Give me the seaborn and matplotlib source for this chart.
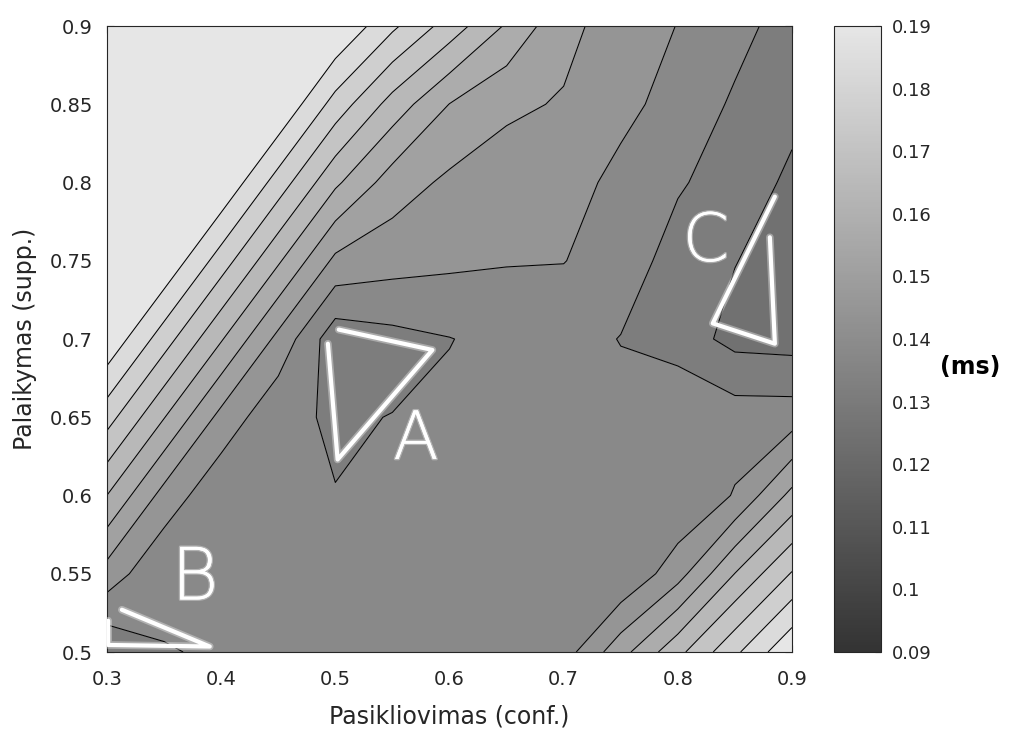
import numpy as np
import pandas as pd
import matplotlib
matplotlib.use("Agg")
import matplotlib as mpl
import matplotlib.pyplot as plt
import matplotlib.patheffects as pe
import seaborn as sns

# ---------------- data (execution time, ms) ----------------
conf_values = [0.30, 0.35, 0.40, 0.45, 0.50, 0.55, 0.60, 0.65, 0.70, 0.75, 0.80, 0.85, 0.90]
supp_values = [0.50, 0.55, 0.60, 0.65, 0.70, 0.75, 0.80, 0.85, 0.90]

time_supp_050 = [0.13254, 0.13790, 0.13820, 0.13930, 0.13995, 0.14060, 0.14125, 0.14130, 0.14151, 0.15506, 0.16862, 0.18214, 0.19569]
time_supp_055 = [0.14827, 0.13865, 0.13865, 0.13930, 0.13930, 0.13995, 0.14060, 0.14060, 0.14125, 0.13833, 0.14840, 0.16413, 0.17752]
time_supp_060 = [0.16394, 0.14860, 0.13930, 0.13930, 0.13813, 0.13930, 0.13995, 0.13995, 0.14125, 0.14125, 0.13833, 0.14502, 0.15939]
time_supp_065 = [0.17967, 0.16426, 0.14892, 0.13930, 0.13735, 0.13813, 0.13930, 0.13995, 0.14125, 0.14060, 0.14418, 0.14125, 0.14125]
time_supp_070 = [0.19533, 0.17999, 0.16459, 0.14918, 0.13391, 0.13605, 0.13781, 0.13995, 0.14125, 0.13774, 0.13475, 0.12955, 0.12890]
time_supp_075 = [0.20690, 0.19566, 0.18032, 0.16491, 0.14951, 0.14710, 0.14580, 0.14489, 0.14463, 0.14216, 0.13475, 0.13170, 0.12858]
time_supp_080 = [0.20850, 0.20690, 0.19598, 0.18058, 0.16524, 0.15425, 0.14970, 0.14840, 0.14743, 0.14255, 0.13885, 0.13443, 0.13046]
time_supp_085 = [0.21000, 0.20850, 0.20690, 0.19631, 0.18090, 0.16790, 0.15737, 0.15198, 0.15055, 0.14645, 0.14190, 0.13716, 0.13293]
time_supp_090 = [0.21150, 0.21000, 0.20850, 0.20690, 0.19650, 0.18480, 0.17408, 0.16322, 0.15250, 0.14853, 0.14431, 0.13995, 0.13540]

contour_levels = [0.1315, 0.1380, 0.1445, 0.1510, 0.1575, 0.1640, 0.1705, 0.1770, 0.1835, 0.1900]
lowest_band_value = 0.125

x_ticks = [0.3, 0.4, 0.5, 0.6, 0.7, 0.8, 0.9]
x_tick_labels = ["0.3", "0.4", "0.5", "0.6", "0.7", "0.8", "0.9"]
y_ticks = [0.50, 0.55, 0.60, 0.65, 0.70, 0.75, 0.80, 0.85, 0.90]
y_tick_labels = ["0.5", "0.55", "0.6", "0.65", "0.7", "0.75", "0.8", "0.85", "0.9"]
cbar_ticks = [0.09, 0.10, 0.11, 0.12, 0.13, 0.14, 0.15, 0.16, 0.17, 0.18, 0.19]
cbar_tick_labels = ["0.09", "0.1", "0.11", "0.12", "0.13", "0.14", "0.15", "0.16", "0.17", "0.18", "0.19"]

# hand-drawn white marks (annotation overlay)
mark_A = [(0.4935, 0.697), (0.502, 0.623), (0.585, 0.693), (0.503, 0.706)]
mark_B = [(0.313, 0.527), (0.390, 0.5035), (0.301, 0.5045), (0.301, 0.520)]
mark_C = [(0.885, 0.791), (0.8306, 0.710), (0.885, 0.697), (0.8806, 0.765)]
letters = [("A", 0.5706, 0.6355, 48), ("B", 0.377, 0.546, 52), ("C", 0.8245, 0.762, 48)]

# ---------------- style ----------------
sns.set_theme(style="white")
plt.rcParams["font.family"] = ["DejaVu Sans"]
dark = "#262626"

grid = pd.DataFrame(
    [time_supp_050, time_supp_055, time_supp_060, time_supp_065, time_supp_070,
     time_supp_075, time_supp_080, time_supp_085, time_supp_090],
    index=supp_values, columns=conf_values)
X, Y = np.meshgrid(grid.columns.values, grid.index.values)
Z = grid.values

cmap = sns.blend_palette(["#333333", "#e6e6e6"], as_cmap=True)
norm = mpl.colors.Normalize(vmin=0.09, vmax=0.19)
band_colors = [cmap(norm(v)) for v in [lowest_band_value] + contour_levels]
fill_levels = [0.0] + contour_levels + [1.0]

W, H = 1009, 731
fig = plt.figure(figsize=(W / 100, H / 100), dpi=100)
fig.patch.set_facecolor("white")
ax = fig.add_axes([107 / W, 1 - 652 / H, 685 / W, 626 / H])

ax.contourf(X, Y, Z, levels=fill_levels, colors=band_colors, antialiased=True)
ax.contour(X, Y, Z, levels=contour_levels, colors="black", linewidths=0.75)

glow = [pe.withStroke(linewidth=5.5, foreground=(1, 1, 1, 0.35))]
for mark in (mark_A, mark_B, mark_C):
    xs, ys = zip(*mark)
    ax.plot(xs, ys, color="white", lw=3.0, solid_capstyle="round",
            solid_joinstyle="round", zorder=5, path_effects=glow)
for ch, lx, ly, fs in letters:
    ax.text(lx, ly, ch, color="white", fontsize=fs, fontweight="light",
            ha="center", va="center", zorder=6,
            path_effects=[pe.withStroke(linewidth=2.0, foreground=(1, 1, 1, 0.35))])

ax.set_xlim(0.3, 0.9)
ax.set_ylim(0.5, 0.9)
ax.set_xticks(x_ticks)
ax.set_xticklabels(x_tick_labels)
ax.set_yticks(y_ticks)
ax.set_yticklabels(y_tick_labels)
ax.tick_params(axis="both", which="major", direction="in", length=5, width=0.8,
               color=dark, labelcolor=dark, labelsize=14,
               bottom=True, left=True, top=True, right=True)
ax.tick_params(axis="x", pad=13)
ax.tick_params(axis="y", pad=10)
for sp in ax.spines.values():
    sp.set_edgecolor(dark)
    sp.set_linewidth(0.8)
ax.set_xlabel("Pasikliovimas (conf.)", fontsize=17, color=dark, labelpad=11)
ax.set_ylabel("Palaikymas (supp.)", fontsize=17, color=dark, labelpad=9)

cax = fig.add_axes([834 / W, 1 - 652 / H, 47 / W, 626 / H])
cb = fig.colorbar(mpl.cm.ScalarMappable(norm=norm, cmap=cmap), cax=cax, ticks=cbar_ticks)
cb.set_ticklabels(cbar_tick_labels)
cax.tick_params(direction="in", length=4, width=0.8, color=dark, labelcolor=dark,
                labelsize=13, pad=8, right=True, left=False)
cb.outline.set_edgecolor(dark)
cb.outline.set_linewidth(0.8)

fig.text(940 / W, 1 - 367 / H, "(ms)", fontsize=17, fontweight="bold",
         color="black", ha="left", va="center")

fig.savefig("out.png", dpi=100, facecolor="white")
